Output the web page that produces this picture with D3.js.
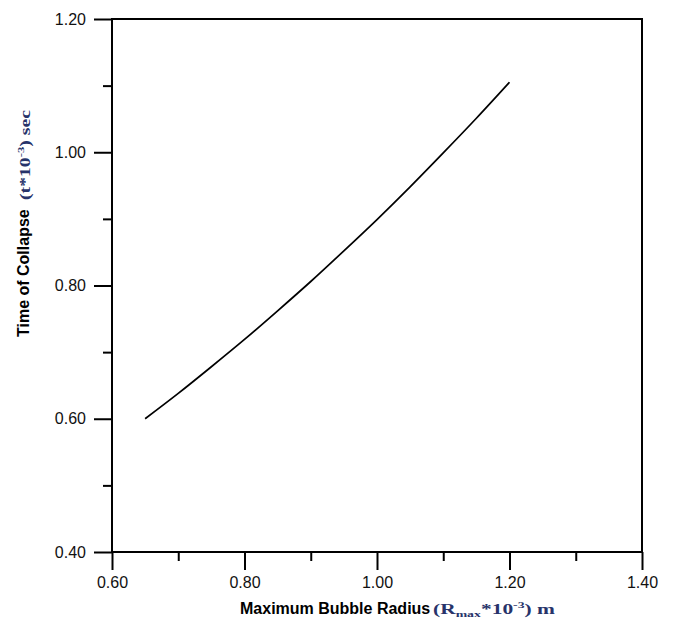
<!DOCTYPE html>
<html>
<head>
<meta charset="utf-8">
<script src="https://cdn.jsdelivr.net/npm/d3@7"></script>
<style>
  body { margin: 0; background: #fff; }
  svg { display: block; }
</style>
</head>
<body>
<div id="chart"></div>
<script>
// dados
const radius = [0.65, 0.70, 0.75, 0.80, 0.85, 0.90, 0.95, 1.00, 1.05, 1.10, 1.15, 1.20];
const collapseTime = [0.600, 0.638, 0.678, 0.719, 0.762, 0.806, 0.852, 0.899, 0.948, 0.999, 1.051, 1.105];
const xTicks = [0.60, 0.80, 1.00, 1.20, 1.40];
const xMinor = [0.70, 0.90, 1.10, 1.30];
const yTicks = [0.40, 0.60, 0.80, 1.00, 1.20];
const yMinor = [0.50, 0.70, 0.90, 1.10];

const width = 674, height = 621;
const margin = { top: 19, right: 32, bottom: 69, left: 112 };
const font = "Arial, 'Liberation Sans', sans-serif";

const svg = d3.select("#chart").append("svg")
  .attr("width", width)
  .attr("height", height);

const x = d3.scaleLinear().domain([0.6, 1.4]).range([margin.left, width - margin.right]);
const y = d3.scaleLinear().domain([0.4, 1.2]).range([height - margin.bottom, margin.top]);

// moldura
svg.append("rect")
  .attr("x", x(0.6)).attr("y", y(1.2))
  .attr("width", x(1.4) - x(0.6)).attr("height", y(0.4) - y(1.2))
  .attr("fill", "none").attr("stroke", "#000").attr("stroke-width", 2);

function styleAxis(g) {
  g.select(".domain").remove();
  g.selectAll(".tick line").attr("stroke", "#000").attr("stroke-width", 2);
  g.selectAll(".tick text").attr("fill", "#111").style("font", `16px ${font}`);
}

// eixo x
svg.append("g")
  .attr("transform", `translate(0,${y(0.4)})`)
  .call(d3.axisBottom(x).tickValues(xTicks).tickFormat(d3.format(".2f")).tickSize(18).tickPadding(7))
  .call(styleAxis);
svg.append("g")
  .attr("transform", `translate(0,${y(0.4)})`)
  .call(d3.axisBottom(x).tickValues(xMinor).tickFormat("").tickSize(9))
  .call(styleAxis);

// eixo y
svg.append("g")
  .attr("transform", `translate(${x(0.6)},0)`)
  .call(d3.axisLeft(y).tickValues(yTicks).tickFormat(d3.format(".2f")).tickSize(18).tickPadding(8))
  .call(styleAxis);
svg.append("g")
  .attr("transform", `translate(${x(0.6)},0)`)
  .call(d3.axisLeft(y).tickValues(yMinor).tickFormat("").tickSize(9))
  .call(styleAxis);

// curva
const line = d3.line()
  .x((d, i) => x(radius[i]))
  .y(d => y(d))
  .curve(d3.curveNatural);

svg.append("path")
  .datum(collapseTime)
  .attr("fill", "none")
  .attr("stroke", "#000")
  .attr("stroke-width", 1.7)
  .attr("d", line);

// título do eixo x
svg.append("text")
  .attr("x", 240).attr("y", 613.5)
  .style("font", `bold 16px ${font}`)
  .attr("fill", "#000")
  .text("Maximum Bubble Radius");

const xUnit = svg.append("text")
  .attr("x", 433).attr("y", 613.5)
  .attr("textLength", 122).attr("lengthAdjust", "spacingAndGlyphs")
  .style("font", "bold 14px 'Liberation Serif', 'Times New Roman', serif")
  .attr("fill", "#27336a");
xUnit.append("tspan").text("(R");
xUnit.append("tspan").attr("dy", 3).style("font-size", "9px").text("max");
xUnit.append("tspan").attr("dy", -3).text("*10");
xUnit.append("tspan").attr("dy", -6).style("font-size", "9px").text("-3");
xUnit.append("tspan").attr("dy", 6).text(") m");

// título do eixo y
svg.append("text")
  .attr("transform", "translate(29,337) rotate(-90)")
  .style("font", `bold 16px ${font}`)
  .attr("fill", "#000")
  .text("Time of Collapse");

const yUnit = svg.append("text")
  .attr("transform", "translate(30,200) rotate(-90)")
  .attr("textLength", 90).attr("lengthAdjust", "spacingAndGlyphs")
  .style("font", "bold 14px 'Liberation Serif', 'Times New Roman', serif")
  .attr("fill", "#27336a");
yUnit.append("tspan").text("(t*10");
yUnit.append("tspan").attr("dy", -6).style("font-size", "9px").text("-3");
yUnit.append("tspan").attr("dy", 6).text(") sec");
</script>
</body>
</html>
